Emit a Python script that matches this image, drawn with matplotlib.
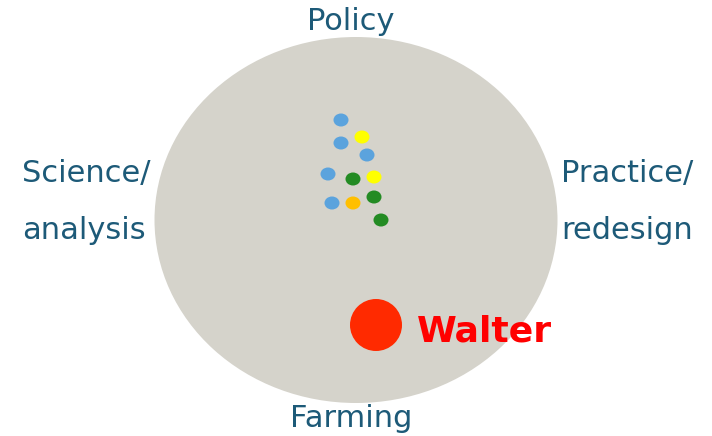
import matplotlib.pyplot as plt
from matplotlib.patches import Ellipse

# posiciones de los puntos (pixeles de la imagen, y hacia abajo)
dot_x = [341, 362, 341, 367, 328, 353, 374, 332, 353, 374, 381]
dot_y = [120, 137, 143, 155, 174, 179, 177, 203, 203, 197, 220]
dot_colors = ['#5ba3dd', '#ffff00', '#5ba3dd', '#5ba3dd', '#5ba3dd', '#238b23',
              '#ffff00', '#5ba3dd', '#ffbf00', '#238b23', '#238b23']

walter_x, walter_y = 376, 325
labels = ['Policy', 'Farming', 'Science/', 'analysis', 'Practice/', 'redesign']

txt_color = '#1d5a78'
fs = 22

fig = plt.figure(figsize=(7.12, 4.36), dpi=100)
ax = fig.add_axes([0, 0, 1, 1])
ax.set_xlim(0, 712)
ax.set_ylim(436, 0)
ax.axis('off')

# circulo de fondo
ax.add_patch(Ellipse((356, 220), 403, 366, facecolor='#d5d3cb', edgecolor='none'))

for x, y, c in zip(dot_x, dot_y, dot_colors):
    ax.add_patch(Ellipse((x, y), 15, 13, facecolor=c, edgecolor='none'))

ax.add_patch(Ellipse((walter_x, walter_y), 52, 52, facecolor='#ff2a00', edgecolor='none'))
ax.text(417, 331, 'Walter', color='#ff0000', fontsize=26, fontweight='bold',
        ha='left', va='center')

ax.text(351, 22, labels[0], color=txt_color, fontsize=fs, ha='center', va='center')
ax.text(351, 418, labels[1], color=txt_color, fontsize=fs, ha='center', va='center')
ax.text(22, 173, labels[2], color=txt_color, fontsize=fs, ha='left', va='center')
ax.text(22, 230, labels[3], color=txt_color, fontsize=fs, ha='left', va='center')
ax.text(561, 173, labels[4], color=txt_color, fontsize=fs, ha='left', va='center')
ax.text(561, 230, labels[5], color=txt_color, fontsize=fs, ha='left', va='center')

fig.savefig('out.png', dpi=100)
